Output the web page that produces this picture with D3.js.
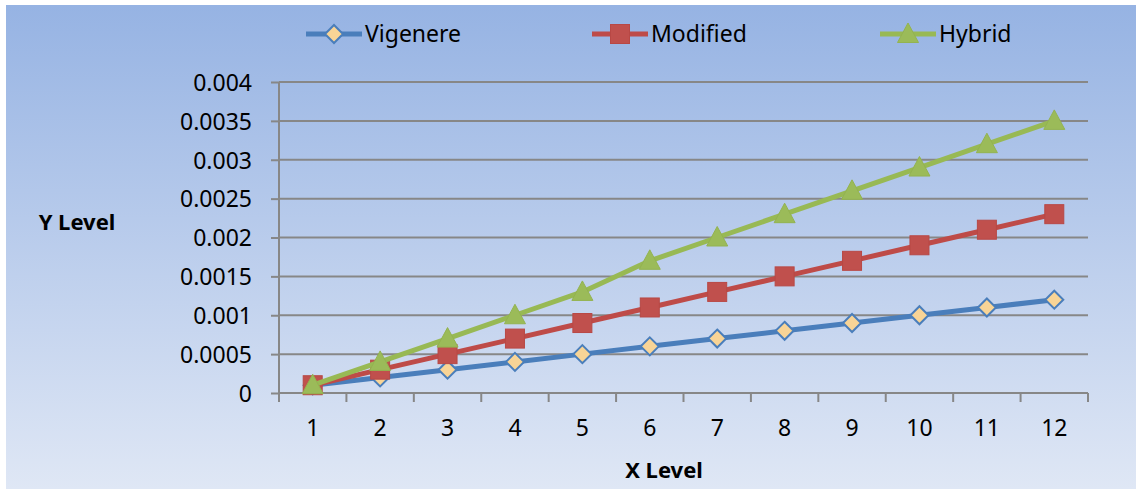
<!DOCTYPE html>
<html>
<head>
<meta charset="utf-8">
<script src="https://cdn.jsdelivr.net/npm/d3@7"></script>
<style>
  html, body { margin: 0; padding: 0; background: #ffffff; }
  svg { display: block; font-family: "Noto Sans", "Open Sans", sans-serif; }
</style>
</head>
<body>
<svg id="chart" width="1136" height="489"></svg>
<script>
const categories = ["1","2","3","4","5","6","7","8","9","10","11","12"];
const vigenere = [0.0001,0.0002,0.0003,0.0004,0.0005,0.0006,0.0007,0.0008,0.0009,0.0010,0.0011,0.0012];
const modified = [0.0001,0.0003,0.0005,0.0007,0.0009,0.0011,0.0013,0.0015,0.0017,0.0019,0.0021,0.0023];
const hybrid   = [0.0001,0.0004,0.0007,0.0010,0.0013,0.0017,0.0020,0.0023,0.0026,0.0029,0.0032,0.0035];
const yTickValues = [0,0.0005,0.001,0.0015,0.002,0.0025,0.003,0.0035,0.004];
const yTickLabels = ["0","0.0005","0.001","0.0015","0.002","0.0025","0.003","0.0035","0.004"];
const seriesNames = ["Vigenere","Modified","Hybrid"];

const svg = d3.select("#chart");
const W = 1136, H = 489;

// background gradient
const defs = svg.append("defs");
const grad = defs.append("linearGradient").attr("id","bg").attr("x1",0).attr("y1",0).attr("x2",0).attr("y2",1);
grad.append("stop").attr("offset","0%").attr("stop-color","#96b3e3");
grad.append("stop").attr("offset","100%").attr("stop-color","#dfe7f5");
svg.append("rect").attr("x",6).attr("y",5).attr("width",W-6).attr("height",H-5).attr("fill","url(#bg)");

const plot = {left:279, right:1088, top:82, bottom:393};
const x = d3.scaleBand().domain(categories).range([plot.left, plot.right]);
const y = d3.scaleLinear().domain([0,0.004]).range([plot.bottom, plot.top]);
const gridColor = "#878787";

// gridlines
svg.append("g").selectAll("line").data(yTickValues.filter(v=>v>0)).join("line")
  .attr("x1",plot.left).attr("x2",plot.right)
  .attr("y1",d=>y(d)).attr("y2",d=>y(d))
  .attr("stroke",gridColor).attr("stroke-width",2);

// y axis
const yAxis = d3.axisLeft(y).tickValues(yTickValues)
  .tickFormat((d,i)=>yTickLabels[i]).tickSize(8).tickPadding(19);
const gy = svg.append("g").attr("transform",`translate(${plot.left},0)`).call(yAxis);
gy.select(".domain").attr("stroke",gridColor).attr("stroke-width",2).attr("d",`M0,${plot.top}V${plot.bottom}`);
gy.selectAll(".tick line").attr("stroke",gridColor).attr("stroke-width",2);
gy.selectAll(".tick text").attr("font-size",23).attr("fill","#000").attr("font-family","Noto Sans").attr("dy","0.36em");

// x axis
const xAxis = d3.axisBottom(x).tickSize(0).tickPadding(27);
const gx = svg.append("g").attr("transform",`translate(0,${plot.bottom})`).call(xAxis);
gx.select(".domain").attr("stroke",gridColor).attr("stroke-width",2).attr("d",`M${plot.left},0H${plot.right}`);
gx.selectAll(".tick text").attr("font-size",23).attr("fill","#000").attr("font-family","Noto Sans");
// tick marks between categories
const boundaries = categories.map(c=>x(c)).concat([x(categories[categories.length-1])+x.bandwidth()]);
gx.append("g").selectAll("line").data(boundaries).join("line")
  .attr("x1",d=>d).attr("x2",d=>d).attr("y1",0).attr("y2",9)
  .attr("stroke",gridColor).attr("stroke-width",2);

// axis titles
svg.append("text").attr("x",77).attr("y",230).attr("text-anchor","middle")
  .attr("font-size",22).attr("font-weight","bold").text("Y Level");
svg.append("text").attr("x",664).attr("y",478).attr("text-anchor","middle")
  .attr("font-size",22).attr("font-weight","bold").text("X Level");

const cx = c => x(c) + x.bandwidth()/2;
const line = d3.line().x((d,i)=>cx(categories[i])).y(d=>y(d));

const styles = [
  {data:vigenere, line:"#4a7ebb", marker:"diamond", fill:"#f8d496", stroke:"#4a7ebb"},
  {data:modified, line:"#be4b48", marker:"square", fill:"#c0504d", stroke:"#b84845"},
  {data:hybrid,   line:"#98b954", marker:"triangle", fill:"#9bbb59", stroke:"#93b350"}
];

function drawMarker(g, type, px, py, s) {
  if (type==="diamond") {
    g.append("path").attr("d",`M${px},${py-9}L${px+9},${py}L${px},${py+9}L${px-9},${py}Z`)
      .attr("fill",s.fill).attr("stroke",s.stroke).attr("stroke-width",2);
  } else if (type==="square") {
    g.append("rect").attr("x",px-9.5).attr("y",py-9.5).attr("width",19).attr("height",19)
      .attr("fill",s.fill).attr("stroke",s.stroke).attr("stroke-width",1);
  } else {
    g.append("path").attr("d",`M${px},${py-11}L${px+10.5},${py+8.5}L${px-10.5},${py+8.5}Z`)
      .attr("fill",s.fill).attr("stroke",s.stroke).attr("stroke-width",1);
  }
}

styles.forEach(s=>{
  const g = svg.append("g");
  g.append("path").datum(s.data).attr("d",line).attr("fill","none")
    .attr("stroke",s.line).attr("stroke-width",5).attr("stroke-linejoin","round");
  s.data.forEach((v,i)=>drawMarker(g, s.marker, cx(categories[i]), y(v), s));
});

// legend
const legendX = [306, 592, 880];
const legendY = 34;
styles.forEach((s,i)=>{
  const g = svg.append("g");
  g.append("line").attr("x1",legendX[i]).attr("x2",legendX[i]+56).attr("y1",legendY).attr("y2",legendY)
    .attr("stroke",s.line).attr("stroke-width",5);
  drawMarker(g, s.marker, legendX[i]+28, legendY, s);
  g.append("text").attr("x",legendX[i]+59).attr("y",legendY).attr("dy","0.36em")
    .attr("font-size",23).attr("fill","#000").text(seriesNames[i]);
});
</script>
</body>
</html>
